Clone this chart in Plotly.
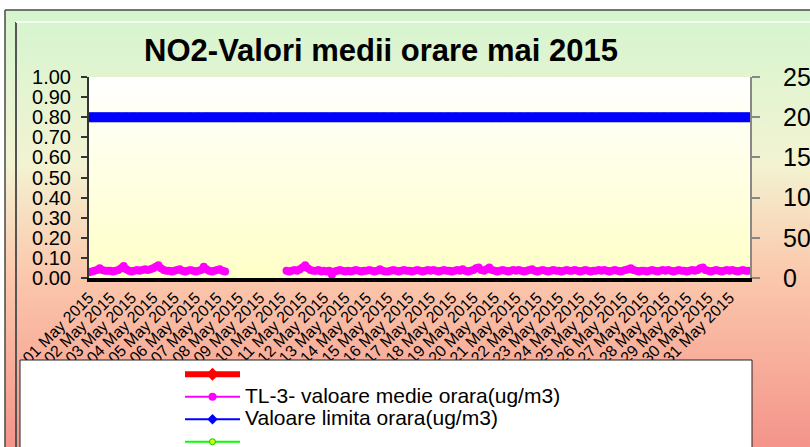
import plotly.graph_objects as go

# ---------------- data ----------------
day_labels = ["%02d May 2015" % d for d in range(1, 32)]
samples_per_day = 8  # 3-hourly readings

no2_tl3 = [
    # 01
    7, 8, 9, 10, 12, 10, 9, 9,
    # 02
    9, 8, 9, 10, 12, 15, 11, 9,
    # 03
    8, 9, 10, 9, 10, 11, 10, 11,
    # 04
    12, 14, 16, 12, 10, 9, 9, 8,
    # 05
    9, 10, 11, 9, 8, 9, 10, 9,
    # 06
    8, 9, 10, 14, 11, 9, 8, 9,
    # 07
    10, 11, 9, 8, None, None, None, None,
    # 08
    None, None, None, None, None, None, None, None,
    # 09
    None, None, None, None, None, None, None, None,
    # 10
    None, None, 9, 8, 9, 10, 9, 11,
    # 11
    13, 16, 12, 10, 9, 9, 10, 8,
    # 12
    9, 8, 9, 4, 8, 9, 10, 9,
    # 13
    8, 9, 8, 9, 10, 9, 8, 9,
    # 14
    9, 10, 9, 8, 9, 11, 9, 8,
    # 15
    8, 9, 10, 9, 8, 9, 10, 9,
    # 16
    9, 8, 9, 10, 9, 8, 9, 10,
    # 17
    9, 10, 9, 8, 9, 10, 9, 9,
    # 18
    8, 9, 10, 9, 11, 9, 8, 9,
    # 19
    10, 12, 13, 10, 9, 11, 13, 10,
    # 20
    9, 8, 9, 10, 9, 8, 9, 10,
    # 21
    9, 10, 9, 8, 9, 10, 11, 9,
    # 22
    8, 9, 10, 9, 8, 9, 10, 9,
    # 23
    9, 8, 9, 10, 9, 9, 10, 9,
    # 24
    8, 9, 10, 9, 8, 9, 9, 10,
    # 25
    9, 10, 9, 8, 9, 10, 9, 8,
    # 26
    9, 10, 11, 12, 10, 9, 8, 9,
    # 27
    9, 8, 9, 10, 9, 8, 9, 10,
    # 28
    9, 10, 9, 8, 9, 10, 9, 9,
    # 29
    8, 9, 10, 9, 10, 12, 13, 10,
    # 30
    9, 8, 9, 10, 9, 8, 9, 10,
    # 31
    9, 10, 9, 8, 9, 10, 9, 9,
]
limit_value = 200  # ug/m3 hourly limit

left_ticks = [0.0, 0.1, 0.2, 0.3, 0.4, 0.5, 0.6, 0.7, 0.8, 0.9, 1.0]
right_ticks = [0, 50, 100, 150, 200, 250]

names = [" ", "TL-3- valoare medie orara(ug/m3)", "Valoare limita orara(ug/m3)", " "]

# ---------------- figure ----------------
W, H = 810, 447
PX0, PX1, PY0, PY1 = 89, 750, 77, 278  # plot area in pixels


def big(t):
    return "<span style='font-size:21px'>%s</span>" % t


x_samples = [i / samples_per_day for i in range(len(no2_tl3))]
x_hours = [i / 24 for i in range(31 * 24)]

fig = go.Figure()

# background panel (on a pixel-mapped helper axis)
fig.add_trace(go.Scatter(
    x=[5, 812, 812, 5, 5], y=[10, 10, 449, 449, 10], mode="lines",
    fill="toself", line=dict(color="#4a4a4a", width=1.5),
    fillgradient=dict(type="vertical", start=10, stop=447,
                      colorscale=[[0, "#d4f5cf"], [0.35, "#f3f3d2"],
                                  [0.6, "#fbc9ad"], [1, "#f4948a"]]),
    xaxis="x", yaxis="y", showlegend=False, hoverinfo="skip"))
# plot area gradient
fig.add_trace(go.Scatter(
    x=[PX0, PX1, PX1, PX0, PX0], y=[PY0, PY0, PY1, PY1, PY0], mode="lines",
    fill="toself", line=dict(width=0),
    fillgradient=dict(type="vertical", start=PY0, stop=PY1,
                      colorscale=[[0, "#ffffff"], [1, "#ffffc8"]]),
    xaxis="x", yaxis="y", showlegend=False, hoverinfo="skip"))

# legend-only red series
fig.add_trace(go.Scatter(x=[None], y=[None], name=big(names[0]), mode="lines+markers",
                         line=dict(color="#ff0000", width=6),
                         marker=dict(symbol="diamond", size=10, color="#ff0000"),
                         xaxis="x2", yaxis="y2"))
# TL-3 hourly averages
fig.add_trace(go.Scatter(x=x_samples, y=no2_tl3, name=big(names[1]), mode="lines+markers",
                         line=dict(color="#ff00ff", width=2),
                         marker=dict(symbol="circle", size=8, color="#ff00ff"),
                         connectgaps=False, xaxis="x2", yaxis="y3"))
# hourly limit
fig.add_trace(go.Scatter(x=x_hours, y=[limit_value] * len(x_hours), name=big(names[2]),
                         mode="lines+markers",
                         line=dict(color="#0000ff", width=2),
                         marker=dict(symbol="diamond", size=8, color="#0000ff"),
                         xaxis="x2", yaxis="y3"))
# legend-only green series
fig.add_trace(go.Scatter(x=[None], y=[None], name=big(names[3]), mode="lines+markers",
                         line=dict(color="#00ff00", width=2),
                         marker=dict(symbol="circle", size=6, color="#ccff00",
                                     line=dict(color="#00cc00", width=1)),
                         xaxis="x2", yaxis="y2"))

shapes = [
    # 3D bevel lines
    dict(type="line", xref="x", yref="y", x0=16, x1=16, y0=22, y1=447,
         line=dict(color="#555555", width=2), layer="above"),
    dict(type="line", xref="x", yref="y", x0=16, x1=812, y0=22, y1=22,
         line=dict(color="#f4fff2", width=2), layer="above"),
    # legend box
    dict(type="rect", xref="x", yref="y", x0=20, x1=752, y0=360, y1=452,
         fillcolor="white", line=dict(color="#222222", width=1), layer="above"),
]

font = "Liberation Sans, Arial, sans-serif"
fig.update_layout(
    width=W, height=H,
    margin=dict(l=0, r=0, t=0, b=0, pad=0, autoexpand=False),
    paper_bgcolor="white", plot_bgcolor="rgba(0,0,0,0)",
    font=dict(family=font, color="black"),
    title=dict(text="<b>NO2-Valori medii orare mai 2015</b>", x=381 / W, y=1 - 50 / H,
               xanchor="center", yanchor="middle", automargin=False,
               font=dict(size=31, family=font, color="black")),
    xaxis=dict(domain=[0, 1], range=[0, W], visible=False, fixedrange=True,
               automargin=False),
    yaxis=dict(domain=[0, 1], range=[H, 0], visible=False, fixedrange=True,
               automargin=False),
    xaxis2=dict(domain=[PX0 / W, PX1 / W], anchor="y2", range=[0, 31 - 1 / 24],
                tickmode="array", tickvals=list(range(31)), ticktext=day_labels,
                tickangle=-45, tickfont=dict(size=16), ticks="",
                showline=True, linecolor="black", linewidth=4,
                showgrid=False, zeroline=False, fixedrange=True, automargin=False),
    yaxis2=dict(domain=[1 - PY1 / H, 1 - PY0 / H], anchor="x2", range=[0, 1],
                tickmode="array", tickvals=left_ticks,
                ticktext=["%.2f" % v for v in left_ticks],
                tickfont=dict(size=20), ticks="outside", ticklen=6, tickwidth=1.5,
                tickcolor="#333333", ticklabelstandoff=6,
                showline=True, linecolor="#333333", linewidth=2,
                showgrid=False, zeroline=False, fixedrange=True, automargin=False),
    yaxis3=dict(overlaying="y2", anchor="x2", side="right", range=[0, 250],
                tickmode="array", tickvals=right_ticks,
                tickfont=dict(size=25), ticks="outside", ticklen=8, tickwidth=2,
                tickcolor="#888888", ticklabelstandoff=18,
                showline=True, linecolor="#888888", linewidth=2,
                showgrid=False, zeroline=False, fixedrange=True, automargin=False),
    legend=dict(x=180 / W, y=1 - 358 / H, xanchor="left", yanchor="top",
                bgcolor="rgba(0,0,0,0)", borderwidth=0,
                font=dict(size=15, family=font), itemwidth=55,
                tracegroupgap=0),
    shapes=shapes,
    showlegend=True,
)

fig.write_html("out.html", config={"displayModeBar": False},
               post_script="document.body.style.margin='0';")
